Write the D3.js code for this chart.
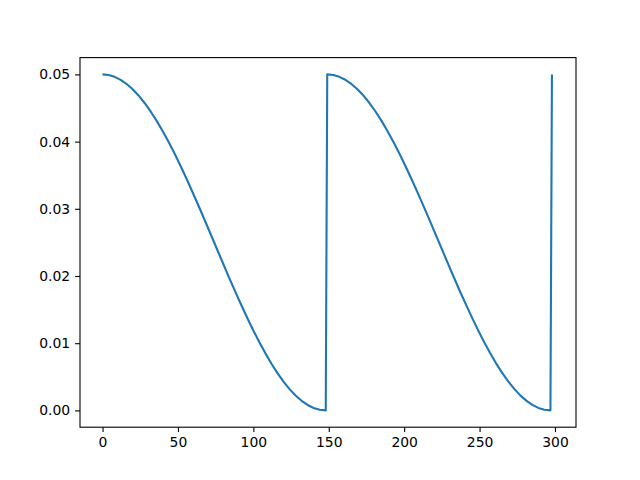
<!DOCTYPE html>
<html>
<head>
<meta charset="utf-8">
<script src="https://cdn.jsdelivr.net/npm/d3@7"></script>
<style>
  body { margin: 0; background: #fff; }
  text { font-family: "DejaVu Sans", sans-serif; }
</style>
</head>
<body>
<div id="grafica"></div>
<script>
// steps (x)
const steps = [
    0, 4, 8, 12, 16, 20, 24, 28, 32, 36, 40, 44, 48, 52, 56, 60, 64, 68, 72,
    76, 80, 84, 88, 92, 96, 100, 104, 108, 112, 116, 120, 124, 128, 132, 136, 140, 144, 148,
    149, 153, 157, 161, 165, 169, 173, 177, 181, 185, 189, 193, 197, 201, 205, 209, 213, 217, 221,
    225, 229, 233, 237, 241, 245, 249, 253, 257, 261, 265, 269, 273, 277, 281, 285, 289, 293, 297,
    298, 299
]

// learning rate values
const lr = [
    0.05000, 0.04991, 0.04964, 0.04919, 0.04857, 0.04778, 0.04683, 0.04571, 0.04445, 0.04305,
    0.04151, 0.03986, 0.03811, 0.03625, 0.03432, 0.03232, 0.03027, 0.02818, 0.02606,
    0.02394, 0.02182, 0.01973, 0.01768, 0.01568, 0.01375, 0.01189, 0.01014, 0.00849, 0.00695,
    0.00555, 0.00429, 0.00317, 0.00222, 0.00143, 0.00081, 0.00036, 0.00009, 0.00000,
    0.05000, 0.04991, 0.04964, 0.04920, 0.04858, 0.04779, 0.04685, 0.04574, 0.04448, 0.04308,
    0.04155, 0.03990, 0.03815, 0.03630, 0.03437, 0.03237, 0.03032, 0.02823, 0.02611,
    0.02399, 0.02187, 0.01978, 0.01773, 0.01573, 0.01380, 0.01194, 0.01018, 0.00853, 0.00699,
    0.00558, 0.00432, 0.00320, 0.00224, 0.00145, 0.00082, 0.00037, 0.00009,
    0.00000, 0.05000
]

const xTicks = [0, 50, 100, 150, 200, 250, 300]
const yTicks = [0.00, 0.01, 0.02, 0.03, 0.04, 0.05]

const data = steps.map((s, i) => ({ step: s, lr: lr[i] }))

const svgWidth = 640
const svgHeight = 480
const margin = { top: 57.6, right: 64, bottom: 52.8, left: 80 }
const chartWidth = svgWidth - margin.left - margin.right
const chartHeight = svgHeight - margin.top - margin.bottom

// matplotlib style 5% padding
const xMin = d3.min(steps), xMax = d3.max(steps)
const xPad = (xMax - xMin) * 0.05
const yMin = d3.min(lr), yMax = d3.max(lr)
const yPad = (yMax - yMin) * 0.05

const scaleX = d3.scaleLinear()
    .domain([xMin - xPad, xMax + xPad])
    .range([0, chartWidth])

const scaleY = d3.scaleLinear()
    .domain([yMin - yPad, yMax + yPad])
    .range([chartHeight, 0])

const svg = d3.select('#grafica')
    .append('svg')
    .attr('width', svgWidth)
    .attr('height', svgHeight)

const g = svg.append('g')
    .attr('transform', `translate(${margin.left},${margin.top})`)

const axisX = d3.axisBottom(scaleX)
    .tickValues(xTicks)
    .tickFormat(d3.format('d'))
    .tickSize(4.9)
    .tickPadding(4.9)

const axisY = d3.axisLeft(scaleY)
    .tickValues(yTicks)
    .tickFormat(d3.format('.2f'))
    .tickSize(4.9)
    .tickPadding(4.9)

const gx = g.append('g')
    .attr('transform', `translate(0,${chartHeight})`)
    .call(axisX)

const gy = g.append('g')
    .call(axisY)

for (const ax of [gx, gy]) {
    ax.select('.domain').remove()
    ax.selectAll('.tick line').attr('stroke', '#000').attr('stroke-width', 1.1)
    ax.selectAll('.tick text')
        .attr('fill', '#000')
        .style('font-size', '13.9px')
        .style('font-family', '"DejaVu Sans", sans-serif')
}

// line
const line = d3.line()
    .x(d => scaleX(d.step))
    .y(d => scaleY(d.lr))

g.append('path')
    .datum(data)
    .attr('d', line)
    .attr('fill', 'none')
    .attr('stroke', '#1f77b4')
    .attr('stroke-width', 2.1)
    .attr('stroke-linejoin', 'round')
    .attr('stroke-linecap', 'butt')

// frame
g.append('rect')
    .attr('x', 0)
    .attr('y', 0)
    .attr('width', chartWidth)
    .attr('height', chartHeight)
    .attr('fill', 'none')
    .attr('stroke', '#000')
    .attr('stroke-width', 1.1)
</script>
</body>
</html>
